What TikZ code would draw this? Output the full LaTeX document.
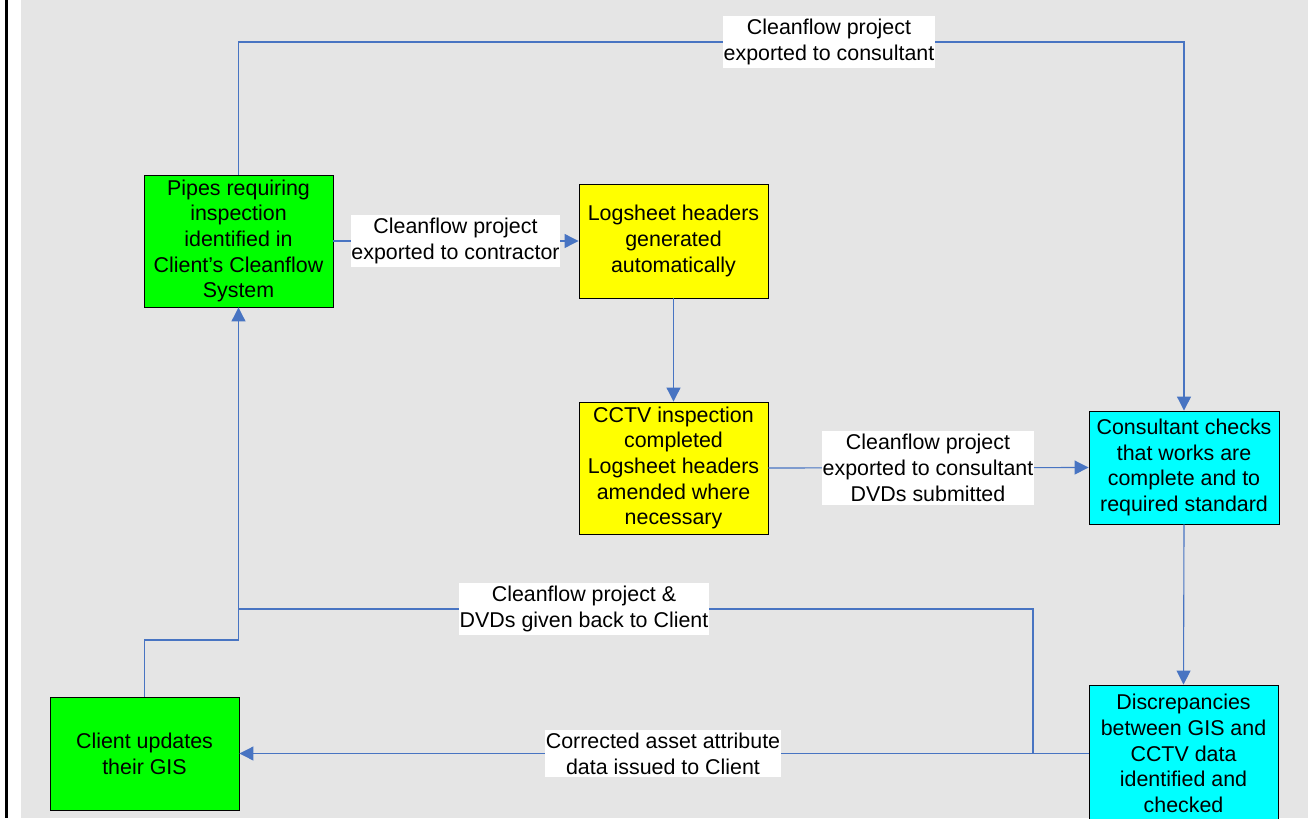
\documentclass[tikz,border=0pt]{standalone}
\usepackage{fontspec}
\setmainfont{Liberation Sans}
\usetikzlibrary{arrows.meta}
\definecolor{pagebg}{RGB}{229,229,229}
\definecolor{link}{RGB}{72,116,194}
\definecolor{boxgreen}{RGB}{0,255,0}
\definecolor{boxyellow}{RGB}{255,255,0}
\definecolor{boxcyan}{RGB}{0,255,255}
\newcommand\flowfont{\fontsize{21.4bp}{25.7bp}\selectfont}
\begin{document}
\begin{tikzpicture}[x=1bp,y=-1bp,
  stepbox/.style={draw=black, line width=0.9bp, minimum width=189bp, align=center, inner sep=0pt, font=\flowfont},
  conn/.style={draw=link, line width=1.1bp},
  arr/.style={conn, -{Triangle[length=14bp,width=14bp]}},
  tag/.style={fill=white, align=center, inner xsep=0.5bp, inner ysep=3bp, font=\flowfont}]
\useasboundingbox (0,0) rectangle (1308,818);
\fill[white] (0,0) rectangle (1308,818);
\fill[black] (5,0) rectangle (8,818);
\fill[pagebg] (21,0) rectangle (1308,818);
\begin{scope}
\clip (0,0) rectangle (1308,818);

% process boxes
\node[stepbox, fill=boxgreen, minimum height=132bp] (pipes) at (238.5,241)
  {Pipes requiring\\inspection\\identified in\\Client’s Cleanflow\\System};
\node[stepbox, fill=boxyellow, minimum height=114bp] (logs) at (673.5,241)
  {Logsheet headers\\generated\\automatically};
\node[stepbox, fill=boxyellow, minimum height=132bp] (cctv) at (673.5,468)
  {CCTV inspection\\completed\\Logsheet headers\\amended where\\necessary};
\node[stepbox, fill=boxcyan, minimum height=113bp, minimum width=190bp] (consult) at (1184,467.5)
  {Consultant checks\\that works are\\complete and to\\required standard};
\node[stepbox, fill=boxcyan, minimum height=137bp] (disc) at (1183.5,753.5)
  {Discrepancies\\between GIS and\\CCTV data\\identified and\\checked};
\node[stepbox, fill=boxgreen, minimum height=113bp] (client) at (144.5,753.5)
  {Client updates\\their GIS};

% routing points
\coordinate (toprun) at (829,42);
\coordinate (split) at (1033,753.5);
\coordinate (backrun) at (584,609);
\coordinate (join) at (238.5,640);

% connectors
\draw[arr] (pipes.north) |- (toprun) -| (consult.north);
\draw[arr] (pipes.east) -- (logs.west);
\draw[arr] (logs.south) -- (cctv.north);
\draw[arr] (cctv.east) -- (consult.west);
\draw[arr] (consult.south) -- (disc.north);
\draw[arr] (disc.west) -- (client.east);
\draw[arr] (split) |- (backrun) -| (pipes.south);
\draw[conn] (client.north) |- (join) -- (join |- backrun);

% connector labels
\node[tag] (lblconsult) at (toprun) {Cleanflow project\\exported to consultant};
\node[tag] (lblcontract) at (455.5,241) {Cleanflow project\\exported to contractor};
\node[tag] (lbldvd) at (928,468) {Cleanflow project\\exported to consultant\\DVDs submitted};
\node[tag] (lblback) at (backrun) {Cleanflow project \&\\DVDs given back to Client};
\node[tag] (lblfix) at (663,753.5) {Corrected asset attribute\\data issued to Client};
\end{scope}
\end{tikzpicture}
\end{document}
